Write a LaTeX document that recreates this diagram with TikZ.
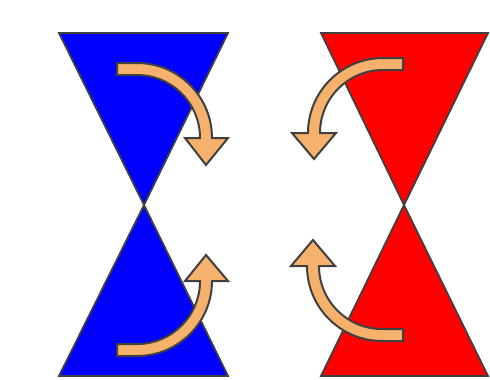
\documentclass[tikz,border=0pt]{standalone}
\usetikzlibrary{calc}
\definecolor{edgegray}{HTML}{404040}
\definecolor{arroworange}{HTML}{F6B26C}
\begin{document}
\begin{tikzpicture}[x=1pt,y=-1pt,
  tri/.style={draw=edgegray,line width=1.8pt,line join=miter},
  bluetri/.style={tri,fill=blue},
  redtri/.style={tri,fill=red},
  curvedarrow/.style={draw=edgegray,fill=arroworange,line width=2pt,line join=miter}]
\useasboundingbox (0,0) rectangle (490,380);
% blue hourglass
\path[bluetri] (59,33) -- (228,33) -- (144,205) -- cycle;
\path[bluetri] (144,205) -- (228,376) -- (59,376) -- cycle;
% red hourglass
\path[redtri] (321,33) -- (488,33) -- (404,205) -- cycle;
\path[redtri] (404,205) -- (488,376) -- (321,376) -- cycle;
% arrows
\path[curvedarrow] (117,63) -- (137,63) arc[start angle=-90,end angle=0,radius=75]
  -- (228,138) -- (206,165) -- (185,138) -- (200,138)
  arc[start angle=0,end angle=-90,radius=63] -- (117,75) -- cycle;
\path[curvedarrow] (403,58) -- (383,58) arc[start angle=-90,end angle=-180,radius=75]
  -- (292,133) -- (314,159) -- (336,133) -- (320,133)
  arc[start angle=-180,end angle=-90,radius=63] -- (403,70) -- cycle;
\path[curvedarrow] (117,356) -- (137,356) arc[start angle=90,end angle=0,radius=75]
  -- (228,281) -- (206,255) -- (185,281) -- (200,281)
  arc[start angle=0,end angle=90,radius=63] -- (117,344) -- cycle;
\path[curvedarrow] (403,341) -- (382,341) arc[start angle=90,end angle=180,radius=75]
  -- (291,266) -- (313,240) -- (335,266) -- (319,266)
  arc[start angle=180,end angle=90,radius=63] -- (403,329) -- cycle;
\end{tikzpicture}
\end{document}
